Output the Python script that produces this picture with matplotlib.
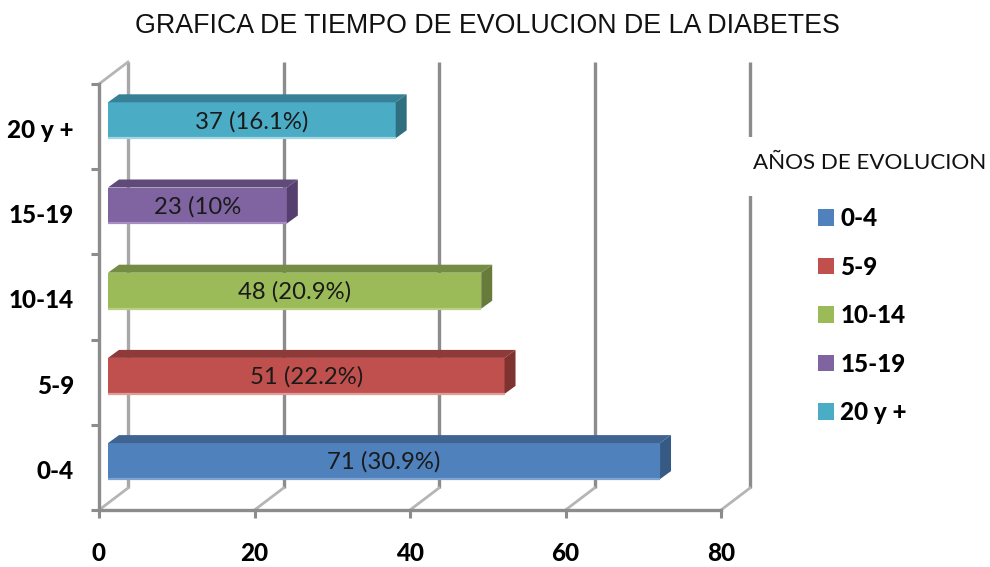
import matplotlib
matplotlib.use("Agg")
import matplotlib.pyplot as plt
from matplotlib.patches import Patch, Polygon, Rectangle

# datos de la grafica
categorias = ["0-4", "5-9", "10-14", "15-19", "20 y +"]
pacientes = [71, 51, 48, 23, 37]
etiquetas = ["71 (30.9%)", "51 (22.2%)", "48 (20.9%)", "23 (10%", "37 (16.1%)"]
escala_x = [0, 20, 40, 60, 80]

# colores de cada barra: frente, cara superior, cara lateral, borde inferior
frente = ["#4f81bd", "#c0504d", "#9bbb59", "#8064a2", "#4bacc6"]
arriba = ["#3f6491", "#8e3a38", "#748c43", "#5f4a79", "#378095"]
lado = ["#375a85", "#7f3331", "#677c3b", "#553f6e", "#2f6f80"]
borde = ["#7fa3d0", "#e09c9a", "#b9d084", "#a48fc0", "#a5d6e3"]
gris = "#8c8c8c"

W, H = 990, 567
fig = plt.figure(figsize=(W / 100, H / 100), dpi=100)
ax = fig.add_axes([99 / W, 1 - 510 / H, (721 - 99) / W, (510 - 84) / H])
ax.set_xlim(0, 80)
ax.set_ylim(-0.5, 4.5)

# pixeles a unidades de datos
px = 80 / (721 - 99)
py = 5 / (510 - 84)
fondo_x, fondo_y = 29 * px, 22 * py
inicio = 9 * px
prof_x, prof_y = 11 * px, 8 * py
alto = 36 * py
sube = 6.3 * py

# paredes: lineas del fondo y diagonales del piso
for v in escala_x:
    tono = "#a8a8a8" if v == 0 else gris
    ax.plot([v + fondo_x, v + fondo_x], [-0.5 + fondo_y, 4.5 + fondo_y],
            color=tono, lw=2.4, clip_on=False, zorder=1, solid_capstyle="butt")
    ax.plot([v, v + fondo_x], [-0.5, -0.5 + fondo_y],
            color="#b5b5b5", lw=2, clip_on=False, zorder=1)
ax.plot([0, fondo_x], [4.5, 4.5 + fondo_y], color="#b5b5b5", lw=2, clip_on=False, zorder=1)

# barras con sus caras superior y lateral
for i in range(len(categorias)):
    c = i + sube
    y0 = c - alto / 2
    y1 = c + alto / 2
    x1 = inicio + pacientes[i]
    ax.barh(c, pacientes[i], height=alto, left=inicio, color=frente[i], zorder=3)
    ax.add_patch(Polygon([(inicio, y1), (inicio + prof_x, y1 + prof_y),
                          (x1 + prof_x, y1 + prof_y), (x1, y1)],
                         color=arriba[i], lw=0, zorder=3))
    ax.add_patch(Polygon([(x1, y0), (x1 + prof_x, y0 + prof_y),
                          (x1 + prof_x, y1 + prof_y), (x1, y1)],
                         color=lado[i], lw=0, zorder=3))
    ax.plot([inicio, x1], [y0, y0], color=borde[i], lw=1.6, zorder=4, solid_capstyle="butt")
    ax.text(inicio + pacientes[i] / 2, c - 1.2 * py, etiquetas[i], ha="center", va="center",
            fontsize=17.2, family="Lato", color="#1a1a1a", zorder=5)

# ejes
for s in ["top", "right"]:
    ax.spines[s].set_visible(False)
for s in ["left", "bottom"]:
    ax.spines[s].set_color(gris)
    ax.spines[s].set_linewidth(2.4)
    ax.spines[s].set_zorder(2)

ax.set_xticks(escala_x)
ax.tick_params(axis="x", color=gris, width=2.2, length=5.8, pad=17)
ax.set_yticks([-0.5, 0.5, 1.5, 2.5, 3.5, 4.5])
ax.set_yticklabels([])
ax.set_yticks([i - 2 * py for i in range(len(categorias))], labels=categorias, minor=True)
ax.tick_params(axis="y", which="major", color=gris, width=2.2, length=5.8)
ax.tick_params(axis="y", which="minor", length=0, pad=18)
for t in ax.get_xticklabels() + ax.get_yticklabels(minor=True):
    t.set_fontfamily("Lato")
    t.set_fontweight("black")
    t.set_fontsize(17.5)
    t.set_color("black")

fig.text(487 / W, 1 - 26 / H, "GRAFICA DE TIEMPO DE EVOLUCION DE LA DIABETES",
         ha="center", va="center", fontsize=19.3, family="Liberation Sans", color="#111111")

# recuadro del titulo de la leyenda, tapa la linea del fondo
fig.add_artist(Rectangle((744 / W, 1 - 196 / H), 246 / W, 59 / H,
                         transform=fig.transFigure, color="white", lw=0, zorder=5))
fig.text(753 / W, 1 - 163 / H, "AÑOS DE EVOLUCION", ha="left", va="center",
         fontsize=16.1, family="Lato", color="#111111", zorder=6)

manejadores = [Patch(facecolor=f, edgecolor="none") for f in frente]
leg = fig.legend(manejadores, categorias, loc="upper left",
                 bbox_to_anchor=(818 / W, 1 - 207 / H), borderaxespad=0, borderpad=0,
                 frameon=False, handlelength=0.66, handleheight=0.66, handletextpad=0.25,
                 labelspacing=1.05, prop={"family": "Lato", "weight": "black", "size": 17.5})

fig.savefig("out.png", dpi=100)
